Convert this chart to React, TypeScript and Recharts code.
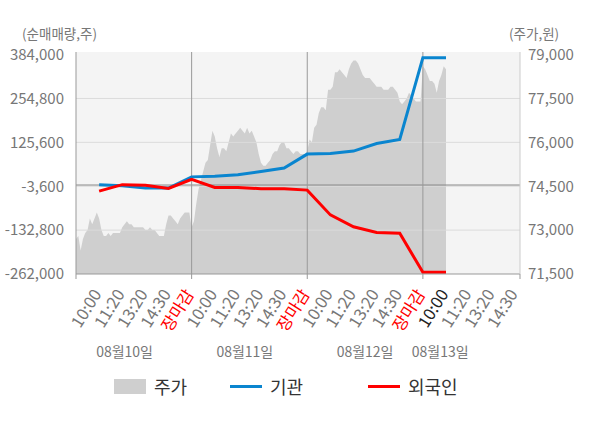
import { ComposedChart, Area, Line, XAxis, YAxis, CartesianGrid, ReferenceLine } from 'recharts';

const FONT = "'Noto Sans CJK KR', 'Noto Sans', sans-serif";

// 장중 집계 시점 (하루 5칸)
const SLOT_NAMES = ['10:00', '11:20', '13:20', '14:30', '장마감'];
const DAY_LABELS = ['08월10일', '08월11일', '08월12일', '08월13일'];
const DATE_TICKS = [2.1, 7.3, 12.5, 15.75];

// 주가 (원), 하루를 50구간으로 읽은 값
const price0810 = [
  72700, 72800, 72300, 72700, 72900, 73000, 73400, 73200, 73400, 73600,
  73400, 73000, 72800, 72800, 72900, 72800, 72900, 72900, 72900, 72900,
  73100, 73200, 73300, 73200, 73200, 73100, 73100, 73100, 73100, 73100,
  73000, 73000, 73100, 73000, 73000, 72900, 72800, 72800, 72800, 73200,
  73500, 73500, 73400, 73300, 73200, 73400, 73500, 73600, 73600, 73600,
];
const price0811 = [
  73100, 73300, 73900, 74400, 74700, 75000, 75300, 75400, 75900, 76400,
  76200, 75800, 75500, 75800, 75800, 75700, 76000, 76300, 76200, 76300,
  76400, 76500, 76400, 76300, 76500, 76300, 76400, 76200, 76000, 75600,
  75300, 75200, 75200, 75300, 75400, 75600, 75700, 75700, 75900, 76000,
  76000, 75800, 75800, 75700, 75600, 75700, 75700, 75600, 75600, 75600,
];
const price0812 = [
  75700, 76100, 76000, 76500, 76600, 77000, 77200, 77200, 77100, 77800,
  77800, 77900, 78400, 78400, 78500, 78400, 78300, 78200, 78500, 78700,
  78800, 78800, 78700, 78500, 78300, 78200, 78200, 78200, 78100, 78000,
  77900, 77900, 77900, 77800, 77800, 77800, 77900, 77900, 77800, 77700,
  77400, 77300, 77400, 77500, 77700, 77600, 77500, 77400, 77400, 77400,
];
const price0813 = [78600, 78500, 78300, 78100, 78100, 78000, 77700, 78100, 78300, 78600, 78500];

// 순매매량 (주), 집계 시점별
const instFlow = [
  1000, -2000, -9000, -9000, 24000,
  26000, 30000, 40000, 50000, 91000,
  93000, 100000, 122000, 134000, 375000,
  375000,
];
const foreignFlow = [
  -18000, 1000, -1000, -10000, 17000,
  -7000, -7000, -11000, -11000, -15000,
  -88000, -123000, -140000, -142000, -257000,
  -257000,
];

const LEFT_TICKS = [-262000, -132800, -3600, 125600, 254800, 384000];
const RIGHT_TICKS = [71500, 73000, 74500, 76000, 77500, 79000];

const X_MAX = 19.2;
const SLOT_COUNT = 19;
const LAST_SLOT = instFlow.length;

const priceDays = [price0810, price0811, price0812, price0813];
const rowMap = new Map<number, any>();
priceDays.forEach((arr, d) => {
  arr.forEach((p, i) => {
    const n = d * 50 + i;
    rowMap.set(n, { t: n / 10, price: p });
  });
});
instFlow.forEach((v, s) => {
  const n = (s + 1) * 10;
  const row = rowMap.get(n) ?? { t: n / 10 };
  row.inst = v;
  row.foreign = foreignFlow[s];
  rowMap.set(n, row);
});
const data = [...rowMap.entries()].sort((a, b) => a[0] - b[0]).map((e) => e[1]);

const mainTicks = [0, 5, 10, 15, X_MAX];
for (let k = 1; k <= SLOT_COUNT; k++) if (k % 5 !== 0) mainTicks.push(k);
mainTicks.sort((a, b) => a - b);

function TimeTick(props: any) {
  const { x, y, payload } = props;
  const v = payload.value;
  const isBoundary = v % 5 === 0 || v === X_MAX;
  const isSlot = Number.isInteger(v) && v >= 1 && v <= SLOT_COUNT;
  const label = isSlot ? SLOT_NAMES[(v - 1) % 5] : '';
  const fill = label === '장마감' ? '#ff0000' : v === LAST_SLOT ? '#222' : '#777';
  return (
    <g>
      {isBoundary && <line x1={x} y1={y} x2={x} y2={y + 5} stroke="#999" />}
      {isSlot && (
        <text
          transform={`translate(${x + 3},${y + 20}) rotate(-58)`}
          textAnchor="end"
          fontSize={16.5}
          fontFamily={FONT}
          fill={fill}
        >
          {label}
        </text>
      )}
    </g>
  );
}

function DateTick(props: any) {
  const { x, y, index } = props;
  return (
    <text x={x} y={y + 9} textAnchor="middle" dominantBaseline="middle" fontSize={14} fontFamily={FONT} fill="#777">
      {DAY_LABELS[index]}
    </text>
  );
}

const fmt = (v: number) => v.toLocaleString('en-US');

const legendItems = [
  { name: '주가', kind: 'box', color: '#cfcfcf', left: 114 },
  { name: '기관', kind: 'line', color: '#0a85cf', left: 230 },
  { name: '외국인', kind: 'line', color: '#ff0000', left: 368 },
];

export default function App() {
  return (
    <div style={{ position: 'absolute', left: 0, top: 0, width: 600, height: 428, background: '#fff', fontFamily: FONT }}>
      <div style={{ position: 'absolute', left: 22, top: 23, fontSize: 13.5, color: '#777', lineHeight: '20px' }}>
        (순매매량,주)
      </div>
      <div style={{ position: 'absolute', left: 509, top: 23, fontSize: 13.5, color: '#777', lineHeight: '20px' }}>
        (주가,원)
      </div>
      <ComposedChart width={600} height={428} data={data} margin={{ top: 51, right: 0, bottom: 64, left: 0 }}>
        <CartesianGrid xAxisId="x1" yAxisId="left" horizontal={false} vertical={false} fill="#f4f4f4" stroke="none" />
        <XAxis
          xAxisId="x1"
          type="number"
          dataKey="t"
          domain={[0, X_MAX]}
          ticks={mainTicks}
          interval={0}
          tick={<TimeTick />}
          tickLine={false}
          tickSize={0}
          tickMargin={0}
          axisLine={{ stroke: '#999' }}
          height={70}
        />
        <XAxis
          xAxisId="x2"
          type="number"
          dataKey="t"
          domain={[0, X_MAX]}
          ticks={DATE_TICKS}
          interval={0}
          tick={<DateTick />}
          tickLine={false}
          tickSize={0}
          tickMargin={0}
          axisLine={false}
          height={20}
        />
        <XAxis
          xAxisId="x3"
          orientation="top"
          type="number"
          dataKey="t"
          domain={[0, X_MAX]}
          ticks={[5, 10, 15]}
          tick={false}
          tickLine={{ stroke: '#999' }}
          tickSize={7}
          axisLine={false}
          height={1}
        />
        <YAxis
          yAxisId="left"
          orientation="left"
          width={76}
          domain={[-262000, 384000]}
          ticks={LEFT_TICKS}
          interval={0}
          tickFormatter={fmt}
          tick={{ fill: '#777', fontSize: 15, fontFamily: FONT }}
          tickLine={false}
          tickSize={0}
          tickMargin={12}
          axisLine={{ stroke: '#999' }}
          padding={{ top: 2.6, bottom: 0 }}
        />
        <YAxis
          yAxisId="right"
          orientation="right"
          width={80}
          domain={[71500, 79000]}
          ticks={RIGHT_TICKS}
          interval={0}
          tickFormatter={fmt}
          tick={{ fill: '#777', fontSize: 15, fontFamily: FONT }}
          tickLine={false}
          tickSize={0}
          tickMargin={8}
          axisLine={{ stroke: '#ccc' }}
          padding={{ top: 2.6, bottom: 0 }}
        />
        <Area
          xAxisId="x1"
          yAxisId="right"
          dataKey="price"
          type="linear"
          fill="#cfcfcf"
          fillOpacity={1}
          stroke="none"
          dot={false}
          activeDot={false}
          isAnimationActive={false}
        />
        {LEFT_TICKS.slice(1, -1).map((v) => (
          <ReferenceLine key={v} xAxisId="x1" yAxisId="left" y={v} stroke="#dcdcdc" />
        ))}
        <ReferenceLine xAxisId="x1" yAxisId="left" y={0} stroke="#888" />
        {[5, 10, 15].map((v) => (
          <ReferenceLine key={v} xAxisId="x1" yAxisId="left" x={v} stroke="#999" />
        ))}
        <Line
          xAxisId="x1"
          yAxisId="left"
          dataKey="inst"
          type="linear"
          stroke="#0a85cf"
          strokeWidth={3}
          dot={false}
          activeDot={false}
          connectNulls
          isAnimationActive={false}
        />
        <Line
          xAxisId="x1"
          yAxisId="left"
          dataKey="foreign"
          type="linear"
          stroke="#ff0000"
          strokeWidth={3}
          dot={false}
          activeDot={false}
          connectNulls
          isAnimationActive={false}
        />
      </ComposedChart>
      {legendItems.map((it) => (
        <div key={it.name} style={{ position: 'absolute', left: it.left, top: 374, height: 24, display: 'flex', alignItems: 'center' }}>
          {it.kind === 'box' ? (
            <div style={{ width: 32, height: 15, background: it.color }} />
          ) : (
            <div style={{ width: 32, height: 3, background: it.color }} />
          )}
          <span style={{ marginLeft: 8, fontSize: 18, color: '#333' }}>{it.name}</span>
        </div>
      ))}
    </div>
  );
}
